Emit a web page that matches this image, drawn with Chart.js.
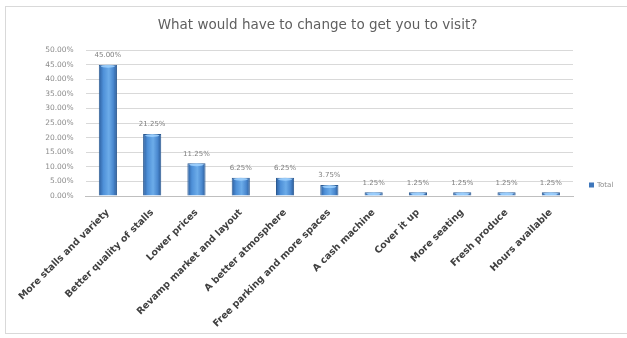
<!DOCTYPE html>
<html>
<head>
<meta charset="UTF-8">
<script src="https://cdn.jsdelivr.net/npm/chart.js@4"></script>
<style>
  html, body { margin: 0; padding: 0; background: #fff; overflow: hidden; }
  #frame { position: absolute; left: 5px; top: 6px; width: 625px; height: 328px; border: 1px solid #d9d9d9; box-sizing: border-box; }
  canvas { display: block; }
</style>
</head>
<body>
<div id="frame"><canvas id="chart" width="623" height="326"></canvas></div>
<script>
// data
const categories = ['More stalls and variety', 'Better quality of stalls', 'Lower prices', 'Revamp market and layout',
    'A better atmosphere', 'Free parking and more spaces', 'A cash machine', 'Cover it up', 'More seating',
    'Fresh produce', 'Hours available'];
const totals = [45.00, 21.25, 11.25, 6.25, 6.25, 3.75, 1.25, 1.25, 1.25, 1.25, 1.25];
const yTicks = [0, 5, 10, 15, 20, 25, 30, 35, 40, 45, 50];
const seriesName = 'Total';

// cylinder-ish fill like the excel bars
function barFill(ctx) {
    const el = ctx.element;
    if (!el || !Number.isFinite(el.x) || !Number.isFinite(el.width) || el.width <= 0) return '#4f8fd6';
    const half = el.width / 2;
    const g = ctx.chart.ctx.createLinearGradient(el.x - half, 0, el.x + half, 0);
    g.addColorStop(0, '#2c5e9e');
    g.addColorStop(0.25, '#4e90d8');
    g.addColorStop(0.55, '#6cace9');
    g.addColorStop(0.8, '#4a88cf');
    g.addColorStop(1, '#2a5a96');
    return g;
}

// value labels above the bars + small legend on the right
const extras = {
    id: 'extras',
    afterLayout(chart) {
        // centre the title on the whole frame, not on the padded area
        const t = chart.titleBlock;
        if (t) { t.left = 0; t.right = chart.width; t.width = chart.width; }
    },
    afterDatasetsDraw(chart) {
        const ctx = chart.ctx;
        const meta = chart.getDatasetMeta(0);
        ctx.save();
        ctx.font = '7px "DejaVu Sans"';
        ctx.textAlign = 'center';
        ctx.textBaseline = 'bottom';
        meta.data.forEach((bar, i) => {
            // light top cap
            ctx.fillStyle = 'rgba(160, 210, 255, 0.85)';
            ctx.beginPath();
            ctx.ellipse(bar.x, bar.y + 1.5, bar.width / 2 - 2, 1.5, 0, 0, Math.PI * 2);
            ctx.fill();
            ctx.fillStyle = '#7f7f7f';
            ctx.fillText(totals[i].toFixed(2) + '%', bar.x, bar.y - 6);
        });

        const lx = chart.chartArea.right + 16;
        const ly = chart.chartArea.bottom - 11;
        ctx.fillStyle = '#3f77bb';
        ctx.fillRect(lx, ly - 2.5, 5, 5);
        ctx.fillStyle = '#8c8c8c';
        ctx.textAlign = 'left';
        ctx.textBaseline = 'middle';
        ctx.fillText(seriesName, lx + 8, ly);
        ctx.restore();
    }
};

const chart = new Chart(document.getElementById('chart'), {
    type: 'bar',
    data: {
        labels: categories,
        datasets: [{
            label: seriesName,
            data: totals,
            backgroundColor: barFill,
            borderColor: '#2b5a92',
            borderWidth: 1,
            categoryPercentage: 1,
            barPercentage: 0.41
        }]
    },
    options: {
        responsive: false,
        animation: false,
        events: [],
        layout: { padding: { left: 6, right: 56, bottom: 2 } },
        scales: {
            x: {
                afterFit: axis => { axis.height = 135; },
                grid: { display: false, drawTicks: false },
                border: { color: '#bfbfbf' },
                ticks: {
                    autoSkip: false,
                    maxRotation: 45,
                    minRotation: 45,
                    padding: 11,
                    color: '#404040',
                    font: { family: '"DejaVu Sans"', size: 9.5, weight: 'bold' }
                }
            },
            y: {
                min: 0,
                max: 50,
                afterBuildTicks: axis => { axis.ticks = yTicks.map(v => ({ value: v })); },
                afterFit: axis => { axis.width = 72; },
                grid: { color: '#d9d9d9', drawTicks: false },
                border: { display: false },
                ticks: {
                    padding: 12,
                    color: '#8c8c8c',
                    font: { family: '"DejaVu Sans"', size: 7.5 },
                    callback: v => v.toFixed(2) + '%'
                }
            }
        },
        plugins: {
            title: {
                display: true,
                text: 'What would have to change to get you to visit?',
                color: '#5f5f5f',
                font: { family: '"DejaVu Sans"', size: 13.5, weight: 'normal' },
                padding: { top: 10, bottom: 17 }
            },
            legend: { display: false },
            tooltip: { enabled: false }
        }
    },
    plugins: [extras]
});
// second pass so the gradient sees the bar positions
chart.update();
</script>
</body>
</html>
